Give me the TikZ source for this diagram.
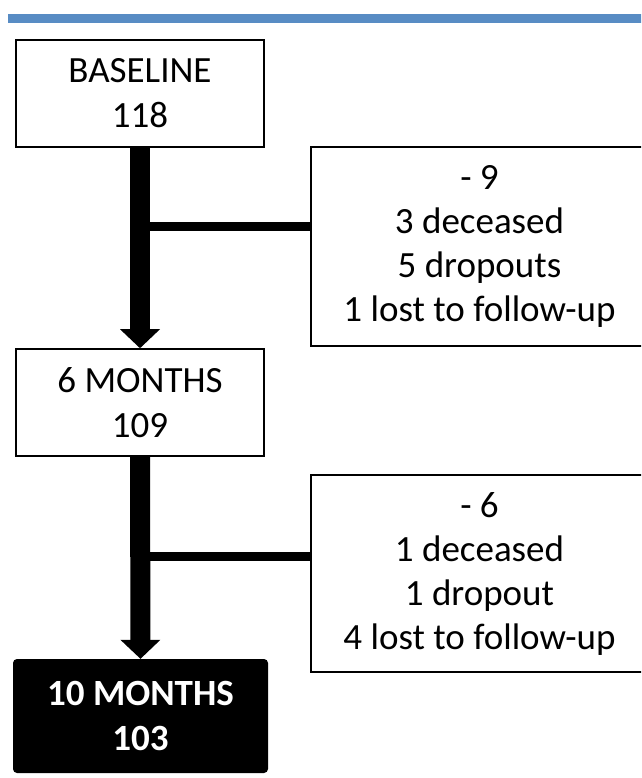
\documentclass[tikz,border=0pt]{standalone}
\usepackage{fontspec}
\setmainfont{Carlito}
\usetikzlibrary{arrows.meta}
\definecolor{barblue}{RGB}{88,140,196}
\tikzset{
  stagebox/.style={draw=black, line width=1.6pt, fill=white, align=center, inner sep=0pt,
    minimum width=248pt, minimum height=107pt, font=\fontsize{37}{45}\selectfont},
  finalbox/.style={fill=black, text=white, rounded corners=4pt, align=center, inner sep=0pt,
    minimum width=255pt, minimum height=114pt, font=\fontsize{37}{45}\selectfont\bfseries},
  lossbox/.style={draw=black, line width=1.6pt, fill=white, align=center, inner sep=0pt,
    minimum width=337pt, font=\fontsize{37}{44}\selectfont},
  flowarrow/.style={line width=20pt, -{Triangle[width=40pt,length=19pt,line width=0pt]}},
  branch/.style={line width=9pt}
}
\begin{document}
\begin{tikzpicture}[x=1pt,y=-1pt]
\path[use as bounding box, clip] (0,0) rectangle (641,778);
\fill[barblue] (8,14) rectangle (660,23);
\node[stagebox] (base) at (140,93.5) {BASELINE\\118};
\node[stagebox] (six) at (140,402.5) {6 MONTHS\\109};
\node[finalbox] (ten) at (140.5,716) {10 MONTHS\\103};
\node[lossbox, minimum height=199pt] (loss1) at (479.5,246.5) {- 9\\3 deceased\\5 dropouts\\1 lost to follow-up};
\node[lossbox, minimum height=197pt] (loss2) at (479.5,573.5) {- 6\\1 deceased\\1 dropout\\4 lost to follow-up};
\coordinate (j1) at (140,226);
\coordinate (j2) at (140,556);
\draw[branch] (j1) -- (j1 -| loss1.west);
\draw[branch] (j2) -- (j2 -| loss2.west);
\draw[flowarrow] (base.south) -- (six.north);
\draw[flowarrow] (six.south) -- (ten.north);
\end{tikzpicture}
\end{document}
